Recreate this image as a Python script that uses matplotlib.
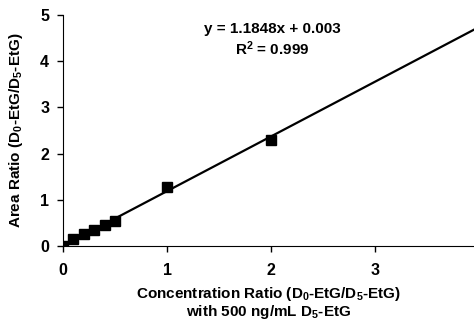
import numpy as np
import matplotlib
matplotlib.use("Agg")
import matplotlib.pyplot as plt

plt.rcParams['font.family'] = ['Liberation Sans', 'DejaVu Sans']
plt.rcParams['font.weight'] = 'bold'
plt.rcParams['mathtext.default'] = 'regular'

conc = [0, 0.1, 0.2, 0.3, 0.4, 0.5, 1.0, 2.0]
ratio = [0.0, 0.15, 0.26, 0.35, 0.46, 0.55, 1.28, 2.3]
slope = 1.1848
intercept = 0.003

fig = plt.figure(figsize=(4.74, 3.21), dpi=100)
ax = fig.add_axes([63/474, 1 - 246/321, 1 - 63/474, (246 - 15)/321])

ax.plot(conc, ratio, 's', color='black', markersize=7)
xfit = np.array([0, 3.95])
ax.plot(xfit, slope * xfit + intercept, color='black', lw=1.6)

ax.set_xlim(0, 3.95)
ax.set_ylim(0, 5)
ax.set_xticks([0, 1, 2, 3])
ax.set_yticks([0, 1, 2, 3, 4, 5])
ax.spines['top'].set_visible(False)
ax.spines['right'].set_visible(False)
ax.tick_params(labelsize=11.5, width=1, length=4, pad=8)
ax.tick_params(axis='y', pad=6)
for lab in ax.get_xticklabels() + ax.get_yticklabels():
    lab.set_fontweight('bold')

ax.set_xlabel('Concentration Ratio (D$_0$-EtG/D$_5$-EtG)\nwith 500 ng/mL D$_5$-EtG',
              fontsize=11, fontweight='bold', labelpad=5, linespacing=1.0)
ax.set_ylabel('Area Ratio (D$_0$-EtG/D$_5$-EtG)', fontsize=11, fontweight='bold', labelpad=11)

ax.text(0.51, 0.94, 'y = 1.1848x + 0.003', transform=ax.transAxes,
        ha='center', va='center', fontsize=11, fontweight='bold')
ax.text(0.51, 0.855, 'R$^2$ = 0.999', transform=ax.transAxes,
        ha='center', va='center', fontsize=11, fontweight='bold')

fig.savefig('out.png', dpi=100)
